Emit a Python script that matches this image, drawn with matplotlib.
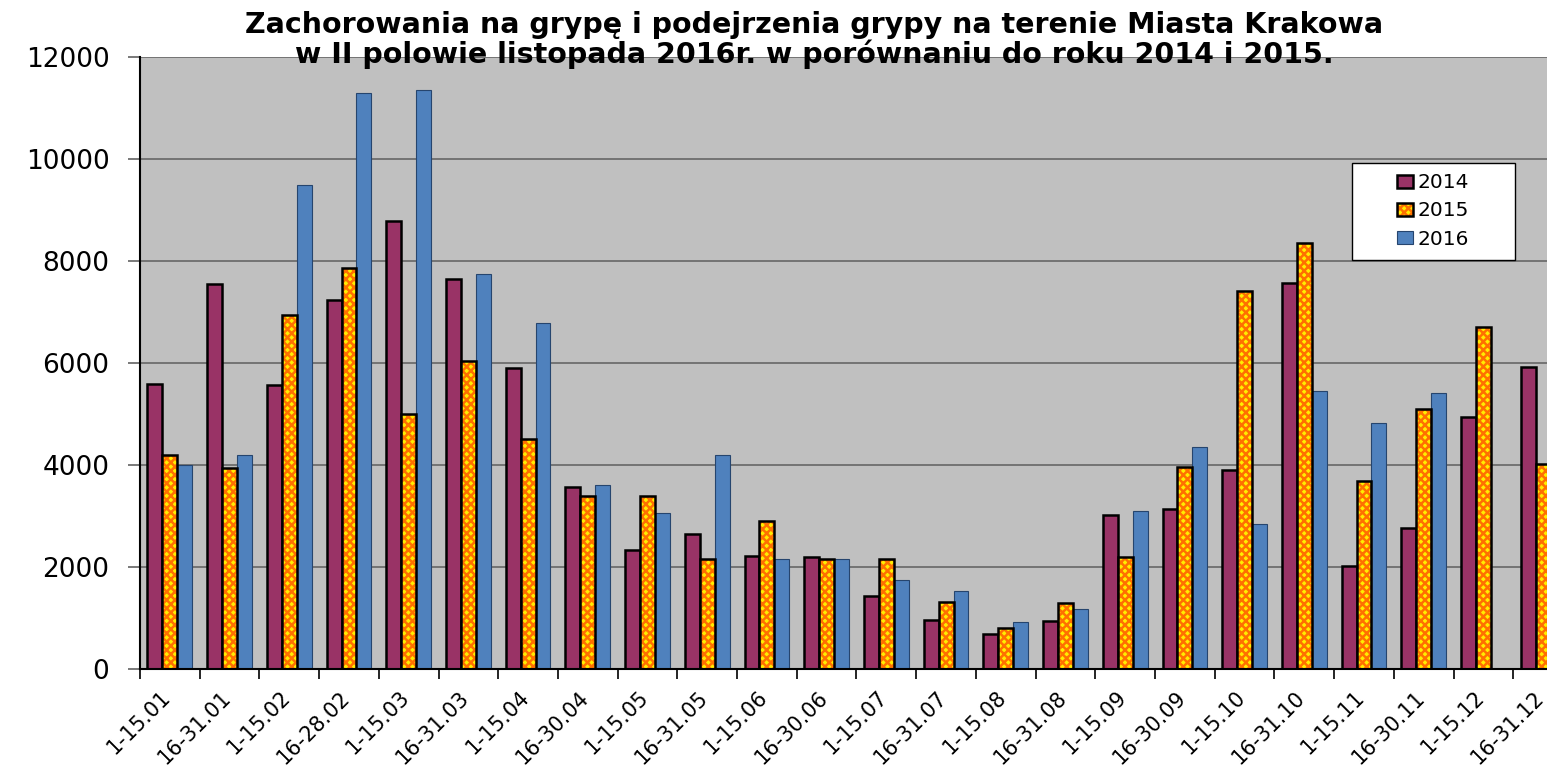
"""Influenza cases in Krakow, half-month periods, 2014-2016 (grouped bars)."""

import matplotlib
matplotlib.use("Agg")
import matplotlib.pyplot as plt
from matplotlib.patches import Rectangle
import numpy as np

periods = ["1-15.01", "16-31.01", "1-15.02", "16-28.02", "1-15.03", "16-31.03",
           "1-15.04", "16-30.04", "1-15.05", "16-31.05", "1-15.06", "16-30.06",
           "1-15.07", "16-31.07", "1-15.08", "16-31.08", "1-15.09", "16-30.09",
           "1-15.10", "16-31.10", "1-15.11", "16-30.11", "1-15.12", "16-31.12"]

cases_2014 = [5580, 7540, 5560, 7240, 8790, 7640, 5910, 3565, 2340, 2640,
              2220, 2190, 1430, 960, 690, 940, 3010, 3140, 3900, 7560,
              2015, 2770, 4950, 5915]
cases_2015 = [4190, 3950, 6940, 7865, 5000, 6040, 4515, 3400, 3400, 2160,
              2910, 2150, 2150, 1305, 810, 1290, 2200, 3955, 7410, 8355,
              3680, 5090, 6700, 4010]
cases_2016 = [4000, 4190, 9495, 11300, 11345, 7750, 6780, 3600, 3050, 4205,
              2150, 2150, 1745, 1525, 915, 1180, 3105, 4350, 2850, 5445,
              4830, 5410]

plt.rcParams["hatch.linewidth"] = 1.8

W, H = 1547, 766
fig = plt.figure(figsize=(W / 100, H / 100), dpi=100)
fig.patch.set_facecolor("white")

# plot area runs past the right edge of the picture, as in the original
ax = fig.add_axes([140 / W, 1 - 669 / H, 1433 / W, 612 / H])
ax.set_facecolor("#C0C0C0")

x = np.arange(len(periods))
bw = 0.25

b14 = ax.bar(x - bw, cases_2014, bw, color="#993366", edgecolor="black",
             linewidth=1.8, zorder=3)
b15_fill = ax.bar(x, cases_2015, bw, color="#FFEE00", edgecolor="#FF7000",
                  hatch="xxxx", linewidth=0, zorder=3)
b15_edge = ax.bar(x, cases_2015, bw, fill=False, edgecolor="black",
                  linewidth=1.8, zorder=4)
x16 = x[:len(cases_2016)]
b16 = ax.bar(x16 + bw, cases_2016, bw, color="#4F81BD", edgecolor="#26456E",
             linewidth=0.8, zorder=3)

ax.set_xlim(-0.5, len(periods) - 0.5)
ax.set_ylim(0, 12000)
ax.set_yticks(np.arange(0, 12001, 2000))
ax.yaxis.grid(True, color="#6E6E6E", linewidth=1.3, zorder=1)
ax.set_axisbelow(True)

for side in ("top", "right"):
    ax.spines[side].set_visible(False)
ax.spines["left"].set_color("black")
ax.spines["left"].set_linewidth(1.5)
ax.spines["bottom"].set_color("black")
ax.spines["bottom"].set_linewidth(1.5)
ax.spines["bottom"].set_zorder(5)

ax.tick_params(axis="y", length=9, width=1.3, color="#6E6E6E", pad=13,
               labelsize=19)
ax.set_xticks(x + 0.08)
ax.set_xticklabels(periods, rotation=45, ha="right", fontsize=15)
ax.tick_params(axis="x", which="major", length=0, pad=13)
ax.set_xticks(np.arange(-0.5, len(periods), 1), minor=True)
ax.tick_params(axis="x", which="minor", length=7, width=1.2, color="black")

fig.text(814 / W, 1 - 33 / H,
         "Zachorowania na grypę i podejrzenia grypy na terenie Miasta Krakowa",
         ha="center", va="baseline", fontsize=20.5, fontweight="bold")
fig.text(814 / W, 1 - 63 / H,
         "w II polowie listopada 2016r. w porównaniu do roku 2014 i 2015.",
         ha="center", va="baseline", fontsize=20.5, fontweight="bold")

# legend box drawn by hand so it sits exactly where the original one is
fig.patches.append(Rectangle((1352 / W, 1 - 260 / H), 163 / W, 97 / H,
                             transform=fig.transFigure, facecolor="white",
                             edgecolor="black", linewidth=1.0, zorder=10))
leg = fig.legend([b14, (b15_fill, b15_edge), b16], ["2014", "2015", "2016"],
                 loc="center", bbox_to_anchor=(1433 / W, 1 - 211 / H),
                 bbox_transform=fig.transFigure, frameon=False, fontsize=14.5,
                 handlelength=0.8, handleheight=0.6, handletextpad=0.25,
                 labelspacing=0.45)
leg.set_zorder(11)

fig.savefig("out.png", dpi=100)
